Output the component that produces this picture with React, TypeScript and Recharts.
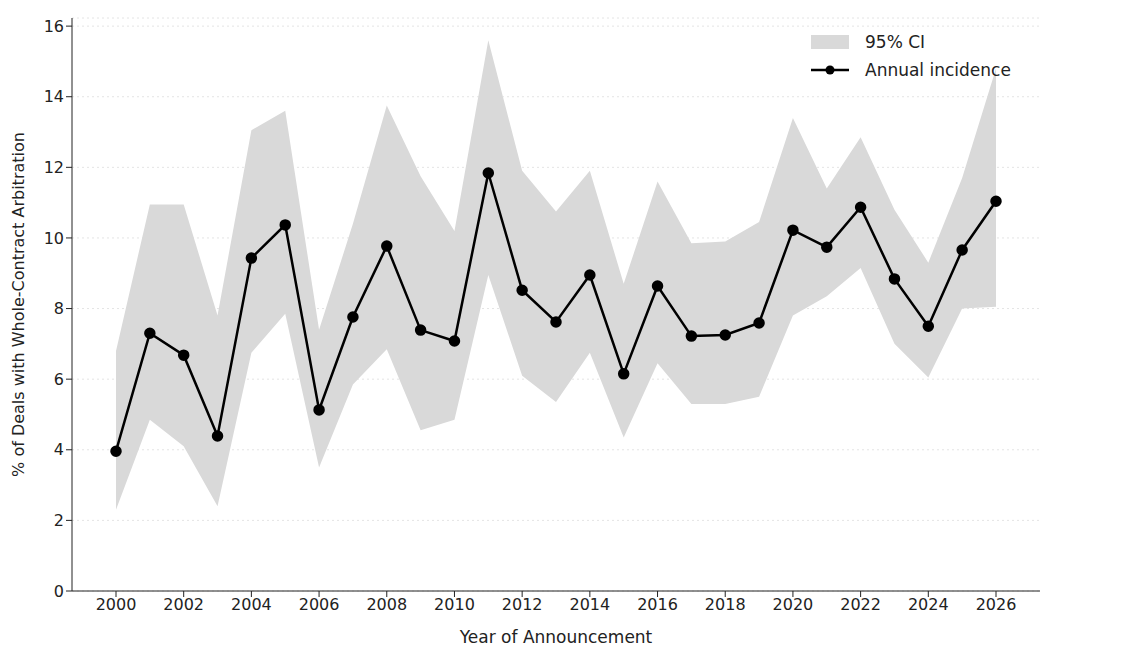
import { ComposedChart, Area, Line, XAxis, YAxis, CartesianGrid } from "recharts"

const years = [2000, 2001, 2002, 2003, 2004, 2005, 2006, 2007, 2008, 2009, 2010, 2011, 2012, 2013, 2014, 2015, 2016, 2017, 2018, 2019, 2020, 2021, 2022, 2023, 2024, 2025, 2026]
const incidence = [3.96, 7.3, 6.68, 4.39, 9.43, 10.37, 5.13, 7.76, 9.77, 7.39, 7.08, 11.84, 8.52, 7.62, 8.95, 6.15, 8.64, 7.22, 7.25, 7.59, 10.22, 9.74, 10.87, 8.84, 7.5, 9.66, 11.04]
const ciHigh = [6.8, 10.95, 10.95, 7.8, 13.05, 13.6, 7.4, 10.4, 13.75, 11.75, 10.2, 15.6, 11.9, 10.75, 11.9, 8.7, 11.6, 9.85, 9.9, 10.45, 13.4, 11.4, 12.85, 10.8, 9.3, 11.7, 14.8]
const ciLow = [2.3, 4.85, 4.1, 2.4, 6.75, 7.85, 3.5, 5.85, 6.85, 4.55, 4.85, 8.95, 6.1, 5.35, 6.75, 4.35, 6.45, 5.3, 5.3, 5.5, 7.8, 8.35, 9.15, 7.0, 6.05, 8.0, 8.05]
const xTicks = [2000, 2002, 2004, 2006, 2008, 2010, 2012, 2014, 2016, 2018, 2020, 2022, 2024, 2026]
const yTicks = [0, 2, 4, 6, 8, 10, 12, 14, 16]

const data = years.map((y, i) => ({ year: y, value: incidence[i], ci: [ciLow[i], ciHigh[i]] }))

const font = "DejaVu Sans, sans-serif"
const tick = { fill: "#222", fontSize: 16, fontFamily: font }

function LegendBox() {
  return (
    <div style={{ position: "absolute", left: 811, top: 28, fontFamily: font, fontSize: 17, color: "#222", lineHeight: "28px" }}>
      <div style={{ display: "flex", alignItems: "center" }}>
        <span style={{ width: 38, height: 14, background: "#d9d9d9", marginRight: 16 }} />95% CI
      </div>
      <div style={{ display: "flex", alignItems: "center" }}>
        <svg width={38} height={14} style={{ marginRight: 16 }}>
          <line x1={0} y1={7} x2={38} y2={7} stroke="#000" strokeWidth={2.5} />
          <circle cx={19} cy={7} r={4.5} fill="#000" />
        </svg>
        Annual incidence
      </div>
    </div>
  )
}

export default function App() {
  return (
    <div style={{ position: "absolute", left: 0, top: 0, width: 1124, height: 670, background: "#fff" }}>
      <ComposedChart width={1124} height={670} data={data} margin={{ top: 18, right: 84, bottom: 19, left: 0 }}>
        <CartesianGrid vertical={false} stroke="#e4e4e4" strokeDasharray="2 3" />
        <XAxis dataKey="year" type="number" domain={[1998.7, 2027.3]} ticks={xTicks} tick={tick} height={60} stroke="#222" tickSize={6}
          label={{ value: "Year of Announcement", position: "insideBottom", offset: 8, fill: "#222", fontSize: 17, fontFamily: font }} />
        <YAxis type="number" domain={[0, 16.23]} ticks={yTicks} tick={tick} width={72} stroke="#222" tickSize={6}
          label={{ value: "% of Deals with Whole-Contract Arbitration", angle: -90, position: "insideLeft", offset: 18, style: { textAnchor: "middle" }, fill: "#222", fontSize: 16, fontFamily: font }} />
        <Area dataKey="ci" type="linear" stroke="none" fill="#d9d9d9" fillOpacity={1} isAnimationActive={false} />
        <Line dataKey="value" type="linear" stroke="#000" strokeWidth={2.5} dot={{ r: 4.5, fill: "#000", stroke: "#000" }} isAnimationActive={false} />
      </ComposedChart>
      <LegendBox />
    </div>
  )
}
